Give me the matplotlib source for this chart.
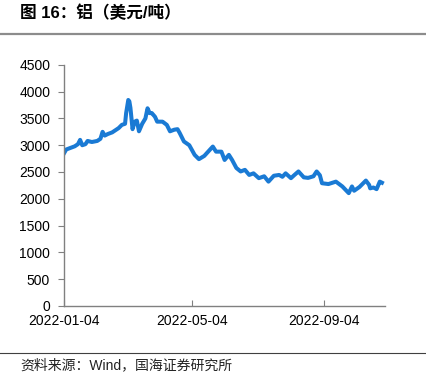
import matplotlib.pyplot as plt
import matplotlib.dates as mdates
import numpy as np
import pandas as pd

plt.rcParams['font.family'] = ['Liberation Sans', 'Noto Sans CJK SC', 'DejaVu Sans']

# LME aluminium, USD/t
dates = ['2022-01-04', '2022-01-06', '2022-01-10', '2022-01-14', '2022-01-17',
         '2022-01-19', '2022-01-21', '2022-01-24', '2022-01-26', '2022-01-30',
         '2022-02-04', '2022-02-07', '2022-02-09', '2022-02-11', '2022-02-14',
         '2022-02-18', '2022-02-21', '2022-02-24', '2022-02-27', '2022-03-02',
         '2022-03-03', '2022-03-05', '2022-03-06', '2022-03-07', '2022-03-09',
         '2022-03-11', '2022-03-13', '2022-03-15', '2022-03-18', '2022-03-21',
         '2022-03-23', '2022-03-25', '2022-03-27', '2022-03-30', '2022-04-01',
         '2022-04-06', '2022-04-10', '2022-04-13', '2022-04-17', '2022-04-20',
         '2022-04-22', '2022-04-26', '2022-05-01', '2022-05-06', '2022-05-10',
         '2022-05-15', '2022-05-20', '2022-05-23', '2022-05-26', '2022-05-31',
         '2022-06-03', '2022-06-07', '2022-06-10', '2022-06-14', '2022-06-18',
         '2022-06-22', '2022-06-26', '2022-06-30', '2022-07-05', '2022-07-10',
         '2022-07-14', '2022-07-19', '2022-07-24', '2022-07-27', '2022-07-30',
         '2022-08-04', '2022-08-07', '2022-08-11', '2022-08-16', '2022-08-20',
         '2022-08-25', '2022-08-28', '2022-08-31', '2022-09-02', '2022-09-08',
         '2022-09-15', '2022-09-21', '2022-09-27', '2022-09-30', '2022-10-02',
         '2022-10-07', '2022-10-13', '2022-10-16', '2022-10-17', '2022-10-20',
         '2022-10-23', '2022-10-26', '2022-10-28']
price = [2850, 2920, 2950, 2980, 3020,
         3100, 3000, 3020, 3080, 3060,
         3080, 3120, 3250, 3180, 3210,
         3240, 3280, 3320, 3380, 3400,
         3600, 3845, 3820, 3700, 3300,
         3440, 3460, 3260, 3400, 3500,
         3690, 3600, 3600, 3530, 3440,
         3440, 3380, 3260, 3290, 3300,
         3230, 3070, 3000, 2820, 2740,
         2800, 2910, 2975, 2880, 2880,
         2725, 2820, 2725, 2575, 2510,
         2540, 2445, 2475, 2385, 2420,
         2320, 2430, 2445, 2410, 2475,
         2385, 2440, 2510, 2400, 2390,
         2420, 2510, 2440, 2290, 2275,
         2320, 2230, 2105, 2230, 2150,
         2220, 2340, 2260, 2195, 2210,
         2180, 2320, 2300]
xticks = ['2022-01-04', '2022-05-04', '2022-09-04']
yticks = [0, 500, 1000, 1500, 2000, 2500, 3000, 3500, 4000, 4500]

dates = pd.to_datetime(dates)

fig = plt.figure(figsize=(4.27, 3.73), dpi=100)
ax = fig.add_axes([0.150, 0.180, 0.752, 0.646])

ax.plot(dates, price, color='#1a7ad4', lw=2.9, solid_joinstyle='round')

ax.set_ylim(0, 4500)
ax.set_yticks(yticks)
ax.set_xlim(pd.Timestamp('2022-01-04'), pd.Timestamp('2022-10-31'))
ax.set_xticks(pd.to_datetime(xticks))
ax.xaxis.set_major_formatter(mdates.DateFormatter('%Y-%m-%d'))

for s in ['top', 'right']:
    ax.spines[s].set_visible(False)
for s in ['left', 'bottom']:
    ax.spines[s].set_color('#808080')
    ax.spines[s].set_linewidth(1)
ax.tick_params(axis='y', direction='out', length=4, color='#808080', labelsize=10, pad=6)
ax.tick_params(axis='x', direction='in', length=4, color='#808080', labelsize=10, pad=6)

fig.text(0.047, 0.965, '图 16：铝（美元/吨）', fontsize=12, fontweight='bold',
         va='center', ha='left')
fig.add_artist(plt.Line2D([0.0, 1.0], [0.909, 0.909], color='#8c8c8c', lw=1.6))
fig.add_artist(plt.Line2D([0.0, 1.0], [0.054, 0.054], color='#404040', lw=0.8))
fig.text(0.047, 0.022, '资料来源：Wind，国海证券研究所', fontsize=10,
         va='center', ha='left', color='#222222')

fig.savefig('out.png', dpi=100)
